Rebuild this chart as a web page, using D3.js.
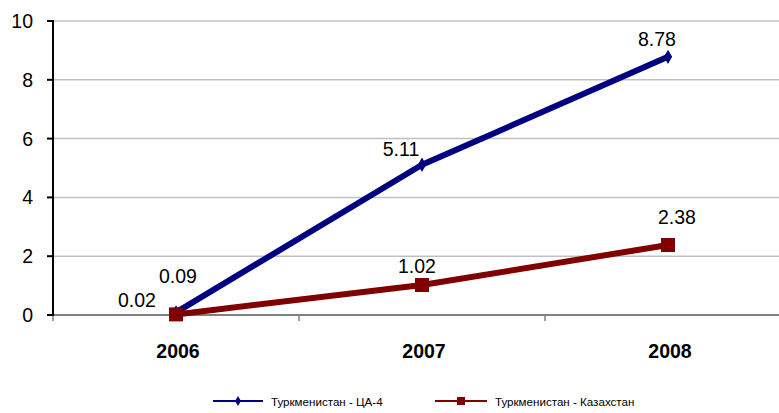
<!DOCTYPE html>
<html>
<head>
<meta charset="utf-8">
<script src="https://cdn.jsdelivr.net/npm/d3@7"></script>
<style>
  body { margin: 0; background: #fff; }
  svg { display: block; font-family: 'Liberation Sans', Arial, sans-serif; }
</style>
</head>
<body>
<svg id="chart" width="779" height="413"></svg>
<script>
// data
const years = ['2006', '2007', '2008'];
const caValues = [0.09, 5.11, 8.78];
const kzValues = [0.02, 1.02, 2.38];
const seriesNames = ['Туркменистан - ЦА-4', 'Туркменистан - Казахстан'];
const yTicks = [0, 2, 4, 6, 8, 10];

// label nudges (px) relative to each point, as in the original layout
const caNudge = [[2, -29], [-21, -9], [-11, -11]];
const kzNudge = [[-39, -7], [-5, -12], [9, -21]];

const svg = d3.select('#chart');
const W = 779;

const x = d3.scaleBand().domain(years).range([53, 791]).paddingInner(0).paddingOuter(0);
const y = d3.scaleLinear().domain([0, 10]).range([315, 21]);
const cx = (d) => x(d) + x.bandwidth() / 2;

// gridlines
svg.append('g')
  .selectAll('line')
  .data(yTicks.filter((t) => t > 0))
  .join('line')
  .attr('x1', 53).attr('x2', W)
  .attr('y1', (d) => y(d)).attr('y2', (d) => y(d))
  .attr('stroke', '#c0c0c0').attr('stroke-width', 1.5);

// x axis
const xAxis = svg.append('g');
xAxis.append('line')
  .attr('x1', 53).attr('x2', W).attr('y1', y(0)).attr('y2', y(0))
  .attr('stroke', '#808080').attr('stroke-width', 2);
xAxis.selectAll('.xtick')
  .data(years)
  .join('line')
  .attr('class', 'xtick')
  .attr('x1', (d) => x(d)).attr('x2', (d) => x(d))
  .attr('y1', y(0)).attr('y2', y(0) + 6)
  .attr('stroke', '#808080').attr('stroke-width', 1.5);
xAxis.selectAll('text')
  .data(years)
  .join('text')
  .attr('x', (d) => cx(d) + 2)
  .attr('y', 358)
  .attr('text-anchor', 'middle')
  .attr('font-size', 19.5)
  .attr('font-weight', 'bold')
  .text((d) => d);

// y axis
const yAxis = svg.append('g');
yAxis.append('line')
  .attr('x1', 53).attr('x2', 53).attr('y1', y(10) - 1).attr('y2', y(0) + 1)
  .attr('stroke', '#000').attr('stroke-width', 2);
yAxis.selectAll('.ytick')
  .data(yTicks)
  .join('line')
  .attr('class', 'ytick')
  .attr('x1', 47).attr('x2', 53)
  .attr('y1', (d) => y(d)).attr('y2', (d) => y(d))
  .attr('stroke', '#000').attr('stroke-width', 2);
yAxis.selectAll('text')
  .data(yTicks)
  .join('text')
  .attr('x', 33)
  .attr('y', (d) => y(d) + 7)
  .attr('text-anchor', 'end')
  .attr('font-size', 19.5)
  .text((d) => d);

const line = d3.line().x((d) => cx(d.year)).y((d) => y(d.v));

const drawSeries = (values, color, marker, nudge) => {
  const pts = values.map((v, i) => ({ year: years[i], v }));
  const g = svg.append('g');
  g.append('path')
    .datum(pts)
    .attr('d', line)
    .attr('fill', 'none')
    .attr('stroke', color)
    .attr('stroke-width', 6)
    .attr('stroke-linejoin', 'round');
  if (marker === 'square') {
    g.selectAll('rect')
      .data(pts)
      .join('rect')
      .attr('x', (d) => cx(d.year) - 7)
      .attr('y', (d) => y(d.v) - 7)
      .attr('width', 14).attr('height', 14)
      .attr('fill', color);
  } else {
    g.selectAll('path.m')
      .data(pts)
      .join('path')
      .attr('class', 'm')
      .attr('d', d3.symbol(d3.symbolDiamond, 60))
      .attr('transform', (d) => `translate(${cx(d.year)},${y(d.v)})`)
      .attr('fill', color);
  }
  g.selectAll('text')
    .data(pts)
    .join('text')
    .attr('x', (d, i) => cx(d.year) + nudge[i][0])
    .attr('y', (d, i) => y(d.v) + nudge[i][1])
    .attr('text-anchor', 'middle')
    .attr('font-size', 19.5)
    .text((d) => d.v.toFixed(2));
};

drawSeries(caValues, '#000080', 'diamond', caNudge);
drawSeries(kzValues, '#800000', 'square', kzNudge);

// legend
const legend = svg.append('g');
const legendItems = [
  { name: seriesNames[0], color: '#000080', marker: 'diamond', x0: 213, x1: 263 },
  { name: seriesNames[1], color: '#800000', marker: 'square', x0: 435, x1: 487 },
];
legendItems.forEach((it) => {
  const ly = 401;
  legend.append('line')
    .attr('x1', it.x0).attr('x2', it.x1).attr('y1', ly).attr('y2', ly)
    .attr('stroke', it.color).attr('stroke-width', 2);
  const mx = (it.x0 + it.x1) / 2;
  if (it.marker === 'square') {
    legend.append('rect')
      .attr('x', mx - 4).attr('y', ly - 4).attr('width', 8).attr('height', 8)
      .attr('fill', it.color);
  } else {
    legend.append('path')
      .attr('d', d3.symbol(d3.symbolDiamond, 30))
      .attr('transform', `translate(${mx},${ly})`)
      .attr('fill', it.color);
  }
  legend.append('text')
    .attr('x', it.x1 + 8)
    .attr('y', ly + 5)
    .attr('font-size', 11.6)
    .attr('fill', '#000')
    .text(it.name);
});
</script>
</body>
</html>
